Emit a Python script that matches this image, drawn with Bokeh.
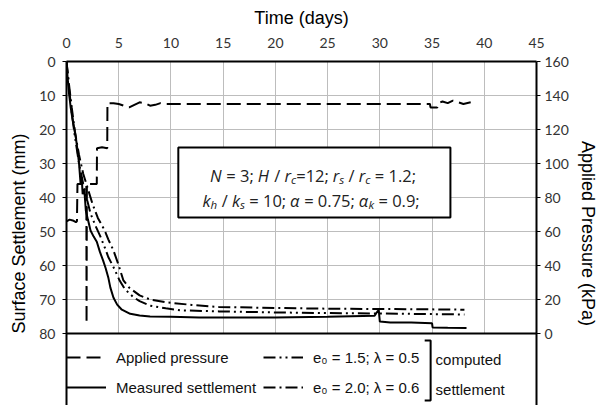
from bokeh.plotting import figure
from bokeh.models import (Range1d, LinearAxis, FixedTicker, Span, BoxAnnotation,
                          Label, Legend, LegendItem)
from bokeh.embed import file_html
from bokeh.resources import INLINE

# ---------------- data ----------------
time_ticks = [0, 5, 10, 15, 20, 25, 30, 35, 40, 45]
settle_ticks = [0, 10, 20, 30, 40, 50, 60, 70, 80]
pressure_ticks = [0, 20, 40, 60, 80, 100, 120, 140, 160]

pressure_t = [0.0, 0.3, 0.6, 0.9, 1.0, 1.05, 1.5, 1.9, 1.92, 1.95, 2.4, 2.9, 2.92, 3.4, 3.9,
              3.92, 4.5, 5.0, 5.5, 6.0, 6.5, 7.0, 7.5, 8.0, 8.5, 9.0, 9.5, 10.0, 15.0, 20.0,
              25.0, 30.0, 34.8, 34.85, 35.5, 35.6, 36.0, 36.5, 37.0, 37.5, 38.0, 38.7]
pressure_kpa = [66, 67, 66.5, 65.5, 66, 88, 88, 88, 6, 88, 88, 88, 109, 109.5, 109,
                135.5, 135.5, 135, 134, 133, 134.5, 136, 135.5, 134, 134.5, 135.5, 135, 135, 135, 135,
                135, 135, 135, 133, 133, 135.5, 136.5, 135.5, 137, 136, 135, 136]

meas_t = [0, 0.1, 0.25, 0.4, 0.55, 0.72, 0.9, 1.05, 1.2, 1.35, 1.45, 1.55, 1.7, 1.85, 2.05,
          2.3, 2.6, 2.9, 3.2, 3.5, 3.75, 4.0, 4.2, 4.5, 4.85, 5.3, 6.1, 7.0, 8.0, 10.0,
          12.7, 16.0, 20.0, 25.0, 29.5, 29.8, 29.9, 30.0, 31.0, 33.0, 35.0, 35.05, 36.5, 38.3]
meas_mm = [0, 4.5, 9.6, 13.5, 16.5, 19.3, 22.5, 26, 30, 36, 34, 39, 37.5, 43.8, 46.5,
           49.7, 51.5, 53, 56, 58.5, 60.8, 63.5, 66.5, 69.5, 71.5, 73, 74.2, 74.7, 75, 75.1,
           75.3, 75.3, 75.3, 75.1, 74.8, 73.4, 73.2, 76.5, 76.8, 76.8, 77.0, 78.2, 78.3, 78.4]

comp15_t = [0, 0.25, 0.5, 0.8, 1.2, 1.6, 2.0, 2.3, 2.8, 3.25, 3.7, 4.0, 4.5, 5.1, 5.6,
            6.4, 7.0, 8.0, 9.5, 11.0, 14.6, 20, 25, 30, 35, 38.1]
comp15_mm = [0, 8, 15, 22, 30, 36, 41, 44.7, 48.5, 51.5, 55, 57.5, 60.5, 64.5, 67,
             69.3, 70.5, 71.8, 72.6, 73.2, 73.5, 73.8, 74.0, 74.1, 74.3, 74.4]

comp20_t = [0, 0.25, 0.5, 0.8, 1.2, 1.6, 2.0, 2.5, 3.0, 3.5, 3.72, 4.0, 4.5, 5.0, 5.45,
            6.0, 7.0, 8.0, 9.5, 12, 14.6, 20, 25, 30, 35, 38.1]
comp20_mm = [0, 7, 13.5, 20.5, 27.5, 33, 37, 42, 46, 48.8, 50.2, 52.3, 55.6, 60, 64.4,
             66.5, 68.8, 70, 70.8, 71.6, 72.2, 72.5, 72.7, 72.8, 72.9, 73.0]

legend_labels = ["Applied pressure", "Measured settlement",
                 "e\u2080 = 1.5; \u03bb = 0.5", "e\u2080 = 2.0; \u03bb = 0.6"]
bracket_labels = ["computed", "settlement"]

box_line1 = [("N", "i"), (" = 3; ", "n"), ("H", "i"), (" / ", "n"), ("r", "i"), ("c", "s"),
             ("=12; ", "n"), ("r", "i"), ("s", "s"), (" / ", "n"), ("r", "i"), ("c", "s"),
             (" = 1.2;", "n")]
box_line2 = [("k", "i"), ("h", "s"), (" / ", "n"), ("k", "i"), ("s", "s"), (" = 10; ", "n"),
             ("\u03b1", "i"), (" = 0.75; ", "n"), ("\u03b1", "i"), ("k", "s"), (" = 0.9;", "n")]

# ---------------- layout ----------------
W, H = 600, 405
FL, FT, FR = 66, 61, 541          # frame left / top / right in px
PLOT_BOTTOM = 333                 # px where 80 mm sits
X_MAX, MM_MAX, P_MAX = 45, 80, 160
px_per_mm = (PLOT_BOTTOM - FT) / MM_MAX
px_per_day = (FR - FL) / X_MAX
Y_END = (H - FT) / px_per_mm
P_END = P_MAX - Y_END * (P_MAX / MM_MAX)


def dx(px):
    return (px - FL) / px_per_day


def dy(py):
    return (py - FT) / px_per_mm


p = figure(width=W, height=H, x_range=Range1d(0, X_MAX), y_range=Range1d(Y_END, 0),
           x_axis_location="above", output_backend="svg", toolbar_location=None,
           min_border_left=FL, min_border_right=W - FR, min_border_top=FT,
           min_border_bottom=0)
p.extra_y_ranges = {"p": Range1d(P_END, P_MAX)}
p.outline_line_color = None
p.background_fill_color = "white"
p.border_fill_color = "white"

# grids
p.xgrid.ticker = FixedTicker(ticks=time_ticks)
p.ygrid.ticker = FixedTicker(ticks=settle_ticks)
for g in (p.xgrid[0], p.ygrid[0]):
    g.grid_line_color = "#bdbdbd"
    g.grid_line_width = 1
xg = p.xgrid[0]
use_quad = True
if "cross_bounds" in xg.properties():
    try:
        xg.cross_bounds = (0, MM_MAX)
        use_quad = False
    except Exception:
        use_quad = True
if use_quad:
    p.quad(left=0, right=X_MAX, top=MM_MAX, bottom=Y_END, fill_color="white",
           line_color=None)

TICK_FONT = "Lato"
TITLE_FONT = "Liberation Sans"

xa = p.xaxis[0]
xa.ticker = FixedTicker(ticks=time_ticks)
xa.axis_label = "Time (days)"
ya = p.yaxis[0]
ya.ticker = FixedTicker(ticks=settle_ticks)
ya.axis_label = "Surface Settlement (mm)"
ra = LinearAxis(y_range_name="p", ticker=FixedTicker(ticks=pressure_ticks),
                axis_label="Applied Pressure (kPa)")
p.add_layout(ra, "right")

for ax in (xa, ya, ra):
    ax.axis_line_color = "black"
    ax.axis_line_width = 2
    ax.minor_tick_line_color = None
    ax.major_tick_line_color = "black"
    ax.major_tick_in = 0
    ax.major_label_text_font = TICK_FONT
    ax.major_label_text_font_size = "14px"
    ax.major_label_text_color = "#333333"
    ax.axis_label_text_font = TITLE_FONT
    ax.axis_label_text_font_size = "18px"
    ax.axis_label_text_font_style = "normal"
    ax.axis_label_text_color = "black"

xa.major_tick_out = 0
xa.major_label_standoff = 14
xa.axis_label_standoff = 7
ya.major_tick_out = 4
ya.major_label_standoff = 7
ya.axis_label_standoff = 7
ra.major_tick_out = 4
ra.major_label_standoff = 4
ra.axis_label_standoff = 6

# bottom edge of the plotting area
p.add_layout(Span(location=MM_MAX, dimension="width", line_color="black", line_width=2))

# ---------------- series ----------------
r_press = p.line(pressure_t, pressure_kpa, y_range_name="p", line_color="black",
                 line_width=2, line_dash="14 6")
r_c15 = p.line(comp15_t, comp15_mm, line_color="black", line_width=2,
               line_dash="12 4 2 4 2 4")
r_c20 = p.line(comp20_t, comp20_mm, line_color="black", line_width=2,
               line_dash="12 4 2 4")
r_meas = p.line(meas_t, meas_mm, line_color="black", line_width=2)

# ---------------- legend ----------------
def style_legend(lg):
    lg.label_text_font = TITLE_FONT
    lg.label_text_font_size = "15px"
    lg.label_text_color = "#111111"
    lg.glyph_width = 40
    lg.glyph_height = 20
    lg.label_height = 20
    lg.label_standoff = 10
    lg.spacing = 10
    lg.padding = 5
    lg.margin = 0
    lg.border_line_color = None
    lg.background_fill_alpha = 0


leg1 = Legend(items=[LegendItem(label=legend_labels[0], renderers=[r_press]),
                     LegendItem(label=legend_labels[1], renderers=[r_meas])],
              location=(0, 8))
leg2 = Legend(items=[LegendItem(label=legend_labels[2], renderers=[r_c15]),
                     LegendItem(label=legend_labels[3], renderers=[r_c20])],
              location=(197, 8))
style_legend(leg1)
style_legend(leg2)
p.add_layout(leg1)
p.add_layout(leg2)

# bracket "] computed settlement"
BRX = 434
p.line([dx(BRX - 6), dx(BRX), dx(BRX), dx(BRX - 6)],
       [dy(340), dy(340), dy(400), dy(400)], line_color="black", line_width=2)
for txt, base in zip(bracket_labels, (359, 389)):
    p.add_layout(Label(x=dx(BRX + 5), y=dy(base), text=txt, text_font=TITLE_FONT,
                       text_font_size="15px", text_color="#111111",
                       text_baseline="alphabetic"))

# ---------------- parameter box ----------------
p.add_layout(BoxAnnotation(left=dx(179), right=dx(454), top=dy(147), bottom=dy(217),
                           fill_color="white", fill_alpha=1, line_color="black",
                           line_alpha=1, line_width=2))

OS_W = {' ': .26, '=': .572, ';': .266, '/': .367, '.': .266, 'N': .74, 'H': .74,
        'r': .40, 'c': .46, 's': .43, 'k': .50, 'h': .60, '\u03b1': .60}
for d in "0123456789":
    OS_W[d] = .572


def place_runs(runs, cx_px, base_px, size):
    def w(txt, fs):
        return sum(OS_W.get(ch, .57) for ch in txt) * fs
    total = sum(w(t, size * (0.7 if k == "s" else 1)) for t, k in runs)
    x = cx_px - total / 2
    for t, k in runs:
        sub = k == "s"
        fs = size * (0.7 if sub else 1)
        lead = len(t) - len(t.lstrip())
        x += lead * OS_W[' '] * fs
        core = t.strip()
        p.add_layout(Label(x=dx(x), y=dy(base_px + (4 if sub else 0)), text=core,
                           text_font="Open Sans", text_font_size="%.1fpx" % fs,
                           text_font_style="normal" if k == "n" else "italic",
                           text_baseline="alphabetic", text_color="#222222"))
        x += w(core, fs)
        trail = len(t) - len(t.rstrip())
        x += trail * OS_W[' '] * fs


place_runs(box_line1, 315, 175, 16.5)
place_runs(box_line2, 313, 200, 16.5)

open("out.html", "w").write(file_html(p, INLINE))
